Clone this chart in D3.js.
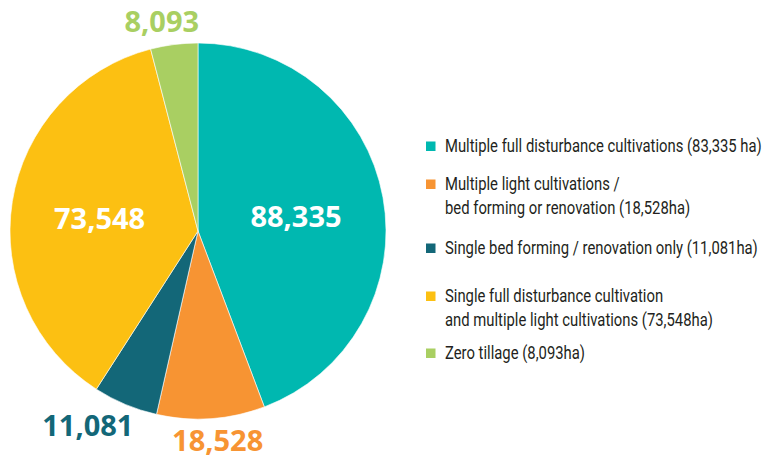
<!DOCTYPE html>
<html>
<head>
<meta charset="utf-8">
<script src="https://cdn.jsdelivr.net/npm/d3@7"></script>
<style>
  body { margin: 0; background: #fff; }
  svg { display: block; }
</style>
</head>
<body>
<div id="chart"></div>
<script>
// Cultivation types (ha)
var labels = [
  "Multiple full disturbance cultivations",
  "Multiple light cultivations",
  "Single bed forming",
  "Single full disturbance cultivation",
  "Zero tillage"
];
var values = [88335, 18528, 11081, 73548, 8093];
var colors = ["#00b8b0", "#f79433", "#136778", "#fcc012", "#a9cf62"];
var legendLines = [
  ["Multiple full disturbance cultivations (83,335 ha)"],
  ["Multiple light cultivations /", "bed forming or renovation (18,528ha)"],
  ["Single bed forming / renovation only (11,081ha)"],
  ["Single full disturbance cultivation", "and multiple light cultivations (73,548ha)"],
  ["Zero tillage (8,093ha)"]
];

var width = 765, height = 455;
var cx = 198, cy = 231, radius = 188;

var svg = d3.select("#chart").append("svg")
  .attr("width", width)
  .attr("height", height);

var data = values.map(function(v, i) {
  return { name: labels[i], value: v, color: colors[i], lines: legendLines[i] };
});

var pie = d3.pie().sort(null).value(function(d) { return d.value; });
var arc = d3.arc().innerRadius(0).outerRadius(radius);
var arcs = pie(data);

var g = svg.append("g").attr("transform", "translate(" + cx + "," + cy + ")");

g.selectAll("path")
  .data(arcs)
  .enter()
  .append("path")
  .attr("d", arc)
  .attr("fill", function(d) { return d.data.color; })
  .attr("stroke", "#fff")
  .attr("stroke-width", 0.6);

// value labels: big slices inside, small slices outside
var fmt = d3.format(",");
var inner = d3.arc().innerRadius(radius * 0.53).outerRadius(radius * 0.53);
var outer = d3.arc().innerRadius(211).outerRadius(211);

g.selectAll("text.val")
  .data(arcs)
  .enter()
  .append("text")
  .attr("class", "val")
  .attr("text-anchor", "middle")
  .attr("font-family", "'Open Sans', sans-serif")
  .attr("font-weight", 700)
  .attr("font-size", 29)
  .attr("fill", function(d) { return d.data.value > 50000 ? "#fff" : d.data.color; })
  .attr("transform", function(d) {
    var p;
    if (d.data.value > 50000) {
      p = inner.centroid(d);
      p[1] += 4;
    } else {
      p = outer.centroid(d);
      p[0] = p[0] * 1.35; // spread small labels sideways
    }
    return "translate(" + p[0] + "," + (p[1] + 10) + ")";
  })
  .text(function(d) { return fmt(d.data.value); });

// legend
var legendX = 426;
var rowY = [146, 184, 248, 296, 353];
var lineH = 24;

var legend = svg.append("g");
var rows = legend.selectAll("g")
  .data(data)
  .enter()
  .append("g")
  .attr("transform", function(d, i) { return "translate(" + legendX + "," + rowY[i] + ")"; });

rows.append("rect")
  .attr("x", 0)
  .attr("y", -4.5)
  .attr("width", 9.5)
  .attr("height", 9.5)
  .attr("fill", function(d) { return d.color; });

var texts = rows.append("g")
  .attr("class", "ltext");

texts.selectAll("text")
  .data(function(d) { return d.lines; })
  .enter()
  .append("text")
  .attr("x", 0)
  .attr("y", function(d, i) { return i * lineH + 6; })
  .attr("font-family", "Roboto, sans-serif")
  .attr("font-size", 18)
  .attr("fill", "#231f20")
  .text(function(d) { return d; });

// squeeze legend text to a condensed look (longest line ~317px wide)
var longest = d3.max(texts.selectAll("text").nodes(), function(n) { return n.getComputedTextLength(); });
var sx = 317 / longest;
texts.attr("transform", "translate(19,0) scale(" + sx + ",1)");
</script>
</body>
</html>
